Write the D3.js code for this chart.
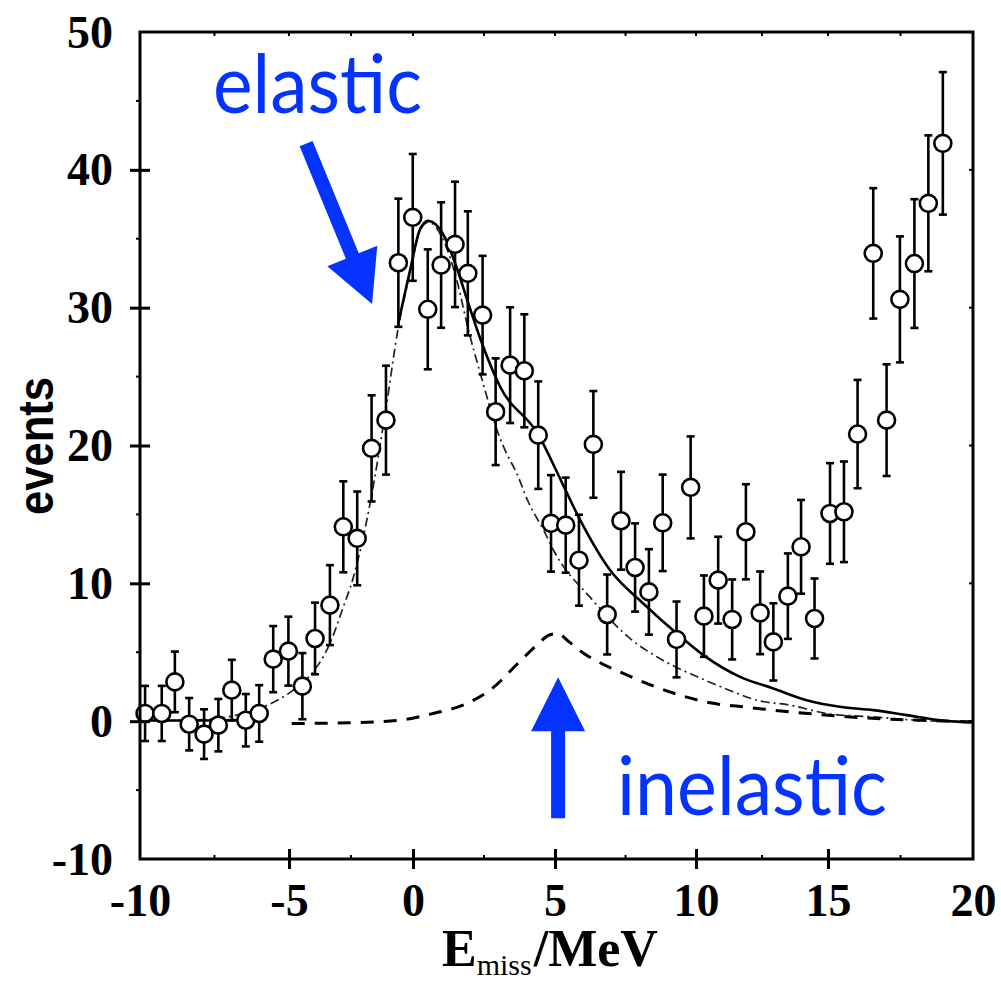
<!DOCTYPE html>
<html><head><meta charset="utf-8">
<script src="https://cdn.jsdelivr.net/npm/d3@7"></script>
<style>html,body{margin:0;padding:0;background:#fff;} svg{display:block;}</style>
</head><body>
<script>
// ---- data ----
const missE = [-9.83,-9.27,-8.83,-8.35,-7.85,-7.37,-6.92,-6.45,-6.0,-5.53,-5.02,-4.46,-3.95,-3.35,-2.81,-2.25,-1.67,-1.09,-0.59,-0.01,0.52,0.99,1.48,1.93,2.45,2.91,3.42,3.92,4.41,4.86,5.38,5.85,6.36,6.85,7.34,7.84,8.33,8.82,9.31,9.81,10.3,10.84,11.37,11.89,12.43,12.93,13.48,13.98,14.49,15.07,15.55,16.02,16.56,17.02,17.48,17.98,18.46,18.96];
const events = [0.56,0.56,2.85,-0.22,-0.94,-0.29,2.25,0.07,0.56,4.5,5.08,2.54,6.0,8.42,14.1,13.26,19.79,21.84,33.26,36.55,29.88,33.09,34.59,32.49,29.46,22.45,25.83,25.42,20.75,14.35,14.22,11.68,20.08,7.74,14.54,11.15,9.38,14.39,5.93,16.96,7.62,10.23,7.38,13.74,7.86,5.75,9.07,12.65,7.45,15.07,15.19,20.83,33.94,21.84,30.6,33.2,37.57,41.92];
const errors = [2.0,2.0,2.2,1.9,1.8,1.9,2.2,1.9,2.05,2.4,2.5,2.4,2.6,2.9,3.3,3.4,3.85,3.95,4.65,4.6,4.35,4.55,4.55,4.5,4.3,3.87,4.2,4.1,3.9,3.5,3.45,3.3,3.87,2.9,3.55,3.2,3.1,3.5,2.75,3.7,2.95,3.15,2.9,3.45,3.0,2.8,3.1,3.4,2.9,3.65,3.65,3.93,4.73,4.05,4.57,4.67,4.93,5.17];

const elasticX = [-10,-8,-5.86,-4.83,-4.08,-3.35,-2.81,-2.41,-1.73,-1.06,-0.59,-0.12,0.25,0.54,1.07,1.54,1.95,2.36,3.05,3.3,3.65,4.06,4.59,5.0,6.24,7.72,8.61,10.34,11.41,12.3,13.56,14.95,16.56,18.86,20];
const elasticY = [0,0.1,1.04,2.25,3.46,5.64,8.29,10.4,15.8,23.05,28.6,32.5,35.6,36.2,34.9,32.0,28.4,25.3,20.6,19.4,18.0,15.9,13.9,12.2,9.0,5.9,4.67,2.98,2.13,1.52,1.16,0.56,0.31,0.0,0.0];

const totalX = [-10,-8,-6.2,-5.9,-5.5,-0.6,-0.12,0.25,0.54,1.07,1.54,1.95,2.36,3.06,4.41,5.18,5.89,6.95,8.13,9.32,10.28,11.67,12.93,14.19,15.41,16.56,17.71,18.86,19.94];
const totalY = [0.05,0.05,0.1,0.4,null,28.8,32.7,35.7,36.3,35.3,32.9,30.3,27.8,24.3,20.8,17.6,14.6,10.96,8.54,6.36,4.79,3.21,2.37,1.52,1.04,0.8,0.44,0.07,-0.09];

const inelasticX = [-4.89,-2.54,-0.52,0.71,1.89,2.71,3.77,4.4,4.8,5.1,5.5,6.0,6.54,7.42,8.43,9.43,10.53,11.79,12.93,15.76,20];
const inelasticY = [-0.17,-0.12,0.07,0.56,1.28,2.25,4.35,5.6,6.25,6.35,5.75,4.95,4.3,3.46,2.6,1.89,1.33,1.04,0.8,0.31,-0.05];

const xTickValues = [-10,-5,0,5,10,15,20];
const yTickValues = [-10,0,10,20,30,40,50];
const xMinorTicks = [-7.5,-2.5,2.5,7.5,12.5,17.5];
const yMinorTicks = [-5,5,15,25,35,45];

// annotation anchors (data units)
const elasticArrow = {from:[-4.31,41.9], to:[-1.65,30.26]};
const inelasticArrow = {from:[5.11,-7.04], to:[5.11,3.19]};
const elasticLabel = {text:"elastic", at:[-7.55,44.1]};
const inelasticLabel = {text:"inelastic", at:[7.2,-6.82]};

// ---- layout ----
const W = 1001, H = 982;
const xRange = [140,289,413,555,696,828,973]; // calibrated to the scanned axis
const svg = d3.select("body").append("svg").attr("width", W).attr("height", H);
const x = d3.scaleLinear().domain(xTickValues).range(xRange);
const y = d3.scaleLinear().domain([-10,50]).range([859,32]);

const serif = "'Liberation Serif','Times New Roman',serif";
const blue = "#0433FF";

// curves
const line = d3.line().defined(d => d[1] != null).x(d => x(d[0])).y(d => y(d[1])).curve(d3.curveMonotoneX);
const zip = (a, b) => a.map((v, i) => [v, b[i]]);

svg.append("path").datum(zip(elasticX, elasticY)).attr("d", line)
  .attr("fill","none").attr("stroke","#222").attr("stroke-width",1.7)
  .attr("stroke-dasharray","9,4,2,4");
svg.append("path").datum(zip(inelasticX, inelasticY)).attr("d", line)
  .attr("fill","none").attr("stroke","#000").attr("stroke-width",3)
  .attr("stroke-dasharray","13,10");
svg.append("path").datum(zip(totalX, totalY)).attr("d", line)
  .attr("fill","none").attr("stroke","#000").attr("stroke-width",2.6);

// error bars
const pts = missE.map((e, i) => ({e, v: events[i], s: errors[i]}));
const eb = svg.append("g").attr("stroke","#000").attr("stroke-width",2.6);
eb.selectAll("line.bar").data(pts).join("line").attr("class","bar")
  .attr("x1", d => x(d.e)).attr("x2", d => x(d.e))
  .attr("y1", d => y(d.v + d.s)).attr("y2", d => y(d.v - d.s));
eb.selectAll("line.capt").data(pts).join("line").attr("class","capt")
  .attr("x1", d => x(d.e) - 4).attr("x2", d => x(d.e) + 4)
  .attr("y1", d => y(d.v + d.s)).attr("y2", d => y(d.v + d.s));
eb.selectAll("line.capb").data(pts).join("line").attr("class","capb")
  .attr("x1", d => x(d.e) - 4).attr("x2", d => x(d.e) + 4)
  .attr("y1", d => y(d.v - d.s)).attr("y2", d => y(d.v - d.s));

// markers
svg.append("g").selectAll("circle").data(pts).join("circle")
  .attr("cx", d => x(d.e)).attr("cy", d => y(d.v)).attr("r", 8.5)
  .attr("fill","#fff").attr("stroke","#000").attr("stroke-width",2.6);

// frame
svg.append("rect").attr("x", x(-10)).attr("y", y(50))
  .attr("width", x(20) - x(-10)).attr("height", y(-10) - y(50))
  .attr("fill","none").attr("stroke","#000").attr("stroke-width",3);

// axes
const fmt = d => String(d);
const gx = svg.append("g").attr("transform", `translate(0,${y(-10)})`)
  .call(d3.axisBottom(x).tickValues(xTickValues).tickFormat(fmt).tickSize(10));
gx.select(".domain").remove();
gx.selectAll(".tick line").attr("y1",-10).attr("y2",10).attr("stroke-width",3)
  .filter(d => d === -10 || d === 20).remove();
gx.selectAll(".tick text").attr("y",57).attr("dy",null)
  .style("font-family", serif).style("font-size","46px").style("font-weight","bold").attr("fill","#000");

const gy = svg.append("g").attr("transform", `translate(${x(-10)},0)`)
  .call(d3.axisLeft(y).tickValues(yTickValues).tickFormat(fmt).tickSize(10));
gy.select(".domain").remove();
gy.selectAll(".tick line").attr("x1",-10).attr("x2",10).attr("stroke-width",3)
  .filter(d => d === -10 || d === 50).remove();
gy.selectAll(".tick text").attr("x",-27).attr("dy",null).attr("y",15)
  .style("font-family", serif).style("font-size","46px").style("font-weight","bold").attr("fill","#000");

// minor ticks
const mt = svg.append("g").attr("stroke","#000").attr("stroke-width",2);
mt.selectAll("line.xb").data(xMinorTicks).join("line").attr("class","xb")
  .attr("x1", d => x(d)).attr("x2", d => x(d)).attr("y1", y(-10)).attr("y2", y(-10) - 4);
mt.selectAll("line.xt").data(xMinorTicks.concat(xTickValues.slice(1,-1))).join("line").attr("class","xt")
  .attr("x1", d => x(d)).attr("x2", d => x(d)).attr("y1", y(50)).attr("y2", y(50) + 4);
mt.selectAll("line.yl").data(yMinorTicks).join("line").attr("class","yl")
  .attr("x1", x(-10) - 4).attr("x2", x(-10)).attr("y1", d => y(d)).attr("y2", d => y(d));
mt.selectAll("line.yr").data(yTickValues.slice(1,-1)).join("line").attr("class","yr")
  .attr("x1", x(20) - 4).attr("x2", x(20)).attr("y1", d => y(d)).attr("y2", d => y(d));

// axis titles
const xt = svg.append("text").attr("x", 442).attr("y", 966)
  .style("font-family", serif).style("font-size","52px").style("font-weight","bold").attr("fill","#000");
xt.append("tspan").text("E");
xt.append("tspan").text("miss").style("font-size","30px").style("font-weight","normal").attr("dy", 9);
xt.append("tspan").text("/MeV").attr("dy", -9).attr("dx", 2);

svg.append("text").attr("transform","translate(53,446) rotate(-90)")
  .attr("text-anchor","middle")
  .attr("textLength",138).attr("lengthAdjust","spacingAndGlyphs")
  .style("font-family","'Liberation Sans',Arial,sans-serif").style("font-size","50px").style("font-weight","bold")
  .attr("fill","#000").text("events");

// annotations
function arrow(a, shaftW, headW, headL) {
  const x0 = x(a.from[0]), y0 = y(a.from[1]), x1 = x(a.to[0]), y1 = y(a.to[1]);
  const dx = x1 - x0, dy = y1 - y0, L = Math.hypot(dx, dy);
  const ux = dx / L, uy = dy / L, px = -uy, py = ux;
  const bx = x1 - ux * headL, by = y1 - uy * headL;
  const p = [
    [x0 + px*shaftW/2, y0 + py*shaftW/2],
    [bx + px*shaftW/2, by + py*shaftW/2],
    [bx + px*headW/2, by + py*headW/2],
    [x1, y1],
    [bx - px*headW/2, by - py*headW/2],
    [bx - px*shaftW/2, by - py*shaftW/2],
    [x0 - px*shaftW/2, y0 - py*shaftW/2]
  ];
  svg.append("polygon").attr("points", p.map(q => q.join(",")).join(" ")).attr("fill", blue);
}
arrow(elasticArrow, 14, 54, 52);
arrow(inelasticArrow, 14, 54, 54);

const sans = "Lato,'Open Sans',sans-serif";
svg.append("text").attr("x", x(elasticLabel.at[0])).attr("y", y(elasticLabel.at[1]))
  .attr("textLength",209).attr("lengthAdjust","spacingAndGlyphs")
  .style("font-family", sans).style("font-size","82px").attr("fill", blue).text(elasticLabel.text);
svg.append("text").attr("x", x(inelasticLabel.at[0])).attr("y", y(inelasticLabel.at[1]))
  .attr("textLength",270).attr("lengthAdjust","spacingAndGlyphs")
  .style("font-family", sans).style("font-size","82px").attr("fill", blue).text(inelasticLabel.text);
</script>
</body></html>
